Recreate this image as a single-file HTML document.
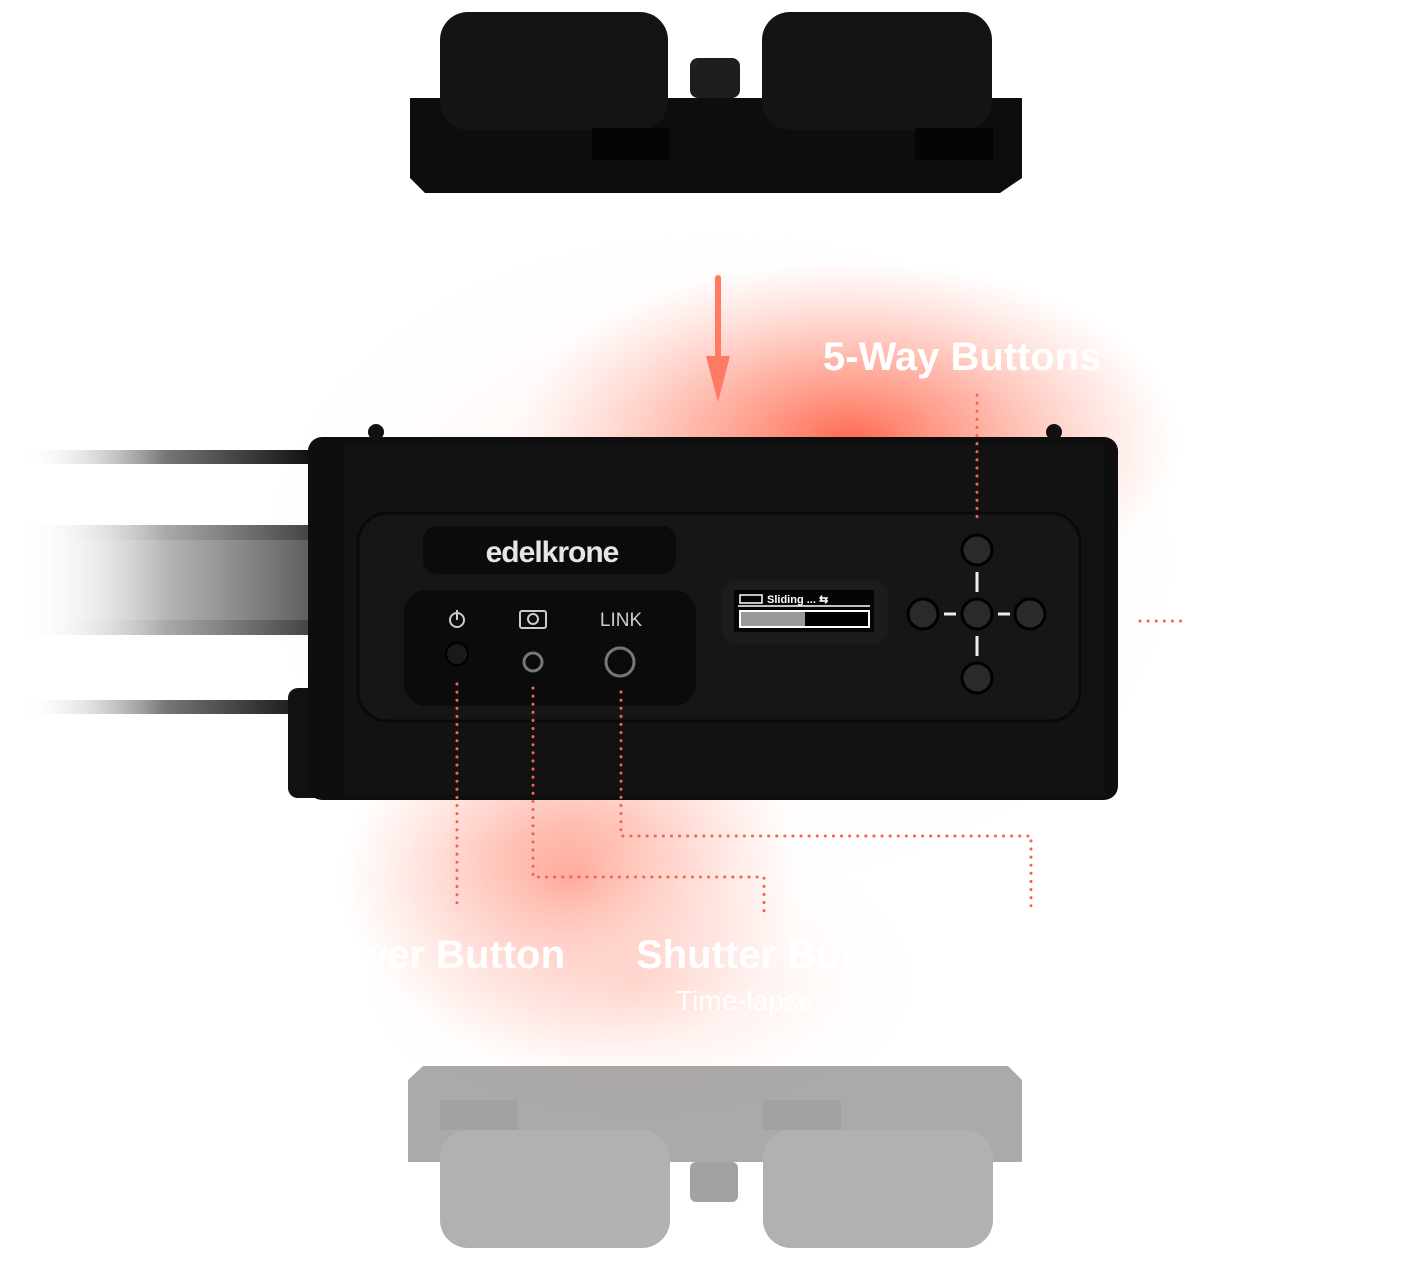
<!DOCTYPE html>
<html><head><meta charset="utf-8"><style>
html,body{margin:0;padding:0;background:#fff;width:1416px;height:1261px;overflow:hidden}
svg{display:block}
text{font-family:"Liberation Sans",sans-serif}
</style></head><body>
<svg width="1416" height="1261" viewBox="0 0 1416 1261" xmlns="http://www.w3.org/2000/svg">
<defs>
<radialGradient id="g1" cx="0.5" cy="0.5" r="0.5">
<stop offset="0" stop-color="#ff6a50" stop-opacity="1"/>
<stop offset="0.45" stop-color="#ff8a74" stop-opacity="0.6"/>
<stop offset="1" stop-color="#ffb0a0" stop-opacity="0"/>
</radialGradient>
<radialGradient id="g2" cx="0.5" cy="0.5" r="0.5">
<stop offset="0" stop-color="#ffd0c6" stop-opacity="0.7"/>
<stop offset="1" stop-color="#fff" stop-opacity="0"/>
</radialGradient>
<linearGradient id="rail" x1="0" x2="1" y1="0" y2="0">
<stop offset="0" stop-color="#fff" stop-opacity="0"/>
<stop offset="0.5" stop-color="#aaa"/>
<stop offset="1" stop-color="#444"/>
</linearGradient>
<linearGradient id="belt" x1="0" x2="1">
<stop offset="0" stop-color="#fff" stop-opacity="0"/>
<stop offset="0.5" stop-color="#777"/>
<stop offset="1" stop-color="#111"/>
</linearGradient>
</defs>
<ellipse cx="720" cy="560" rx="500" ry="360" fill="url(#g2)"/>
<ellipse cx="850" cy="440" rx="330" ry="180" fill="url(#g1)"/>
<ellipse cx="570" cy="880" rx="230" ry="180" fill="url(#g1)" opacity="0.7"/>
<ellipse cx="640" cy="980" rx="300" ry="160" fill="url(#g2)"/>

<text x="730" y="240" font-size="32" fill="#fff" text-anchor="middle">Every bracket mounts on top and bottom</text>

<!-- top bracket -->
<path d="M410 98 L1022 98 L1022 178 L1000 193 L425 193 L410 178 Z" fill="#0d0d0d"/>
<rect x="440" y="12" width="228" height="118" rx="28" fill="#141414"/>
<rect x="762" y="12" width="230" height="118" rx="28" fill="#141414"/>
<rect x="690" y="58" width="50" height="40" rx="8" fill="#1e1e1e"/>
<rect x="592" y="128" width="78" height="32" fill="#050505"/>
<rect x="915" y="128" width="78" height="32" fill="#050505"/>

<!-- arrow -->
<line x1="718" y1="278" x2="718" y2="360" stroke="#ff7a62" stroke-width="6" stroke-linecap="round"/>
<path d="M706 356 L730 356 L718 402 Z" fill="#ff7a62"/>

<text x="823" y="370" font-size="40" font-weight="bold" fill="#fff">5-Way Buttons</text>

<!-- rails -->
<rect x="20" y="450" width="290" height="14" fill="url(#belt)"/>
<rect x="20" y="525" width="290" height="110" fill="url(#rail)"/>
<rect x="20" y="540" width="290" height="80" fill="#fff" opacity="0.15"/>
<rect x="20" y="700" width="290" height="14" fill="url(#belt)"/>

<!-- body -->
<rect x="288" y="688" width="50" height="110" rx="10" fill="#111"/>
<rect x="308" y="437" width="810" height="363" rx="14" fill="#0e0e0e"/>
<rect x="345" y="445" width="760" height="350" fill="#121212"/>
<rect x="358" y="513" width="722" height="208" rx="30" fill="#161616" stroke="#090909" stroke-width="3"/>
<circle cx="376" cy="432" r="8" fill="#111"/><circle cx="1054" cy="432" r="8" fill="#111"/>
<rect x="423" y="526" width="253" height="48" rx="14" fill="#0b0b0b"/>
<text x="552" y="562" font-size="30" font-weight="bold" fill="#e6e6e6" text-anchor="middle" letter-spacing="-1">edelkrone</text>
<rect x="404" y="590" width="292" height="116" rx="22" fill="#0b0b0b"/>
<circle cx="457" cy="620" r="7" fill="none" stroke="#ccc" stroke-width="2"/>
<line x1="457" y1="610" x2="457" y2="620" stroke="#ccc" stroke-width="2"/>
<rect x="520" y="611" width="26" height="17" rx="2" fill="none" stroke="#ccc" stroke-width="2"/>
<circle cx="533" cy="619" r="5" fill="none" stroke="#ccc" stroke-width="2"/>
<text x="621" y="626" font-size="19" fill="#ccc" text-anchor="middle">LINK</text>
<circle cx="457" cy="654" r="11" fill="#1a1a1a" stroke="#000" stroke-width="2"/>
<circle cx="533" cy="662" r="9" fill="#0b0b0b" stroke="#777" stroke-width="3"/>
<circle cx="620" cy="662" r="14" fill="#0b0b0b" stroke="#777" stroke-width="3"/>

<!-- screen -->
<rect x="722" y="580" width="166" height="64" rx="16" fill="#1c1c1c"/>
<rect x="734" y="590" width="140" height="42" fill="#050505"/>
<rect x="740" y="595" width="22" height="8" fill="none" stroke="#fff" stroke-width="1.5"/>
<text x="767" y="603" font-size="11" font-weight="bold" fill="#fff" font-family="Liberation Mono">Sliding ...  ⇆</text>
<line x1="738" y1="606" x2="870" y2="606" stroke="#fff" stroke-width="1.5"/>
<rect x="740" y="611" width="129" height="16" fill="#000" stroke="#fff" stroke-width="2"/>
<rect x="741" y="612" width="64" height="14" fill="#999"/>

<!-- 5 way -->
<g fill="#2a2a2a" stroke="#000" stroke-width="3">
<circle cx="977" cy="550" r="15"/><circle cx="977" cy="614" r="15"/><circle cx="977" cy="678" r="15"/>
<circle cx="923" cy="614" r="15"/><circle cx="1030" cy="614" r="15"/>
</g>
<g stroke="#eee" stroke-width="3">
<line x1="977" y1="572" x2="977" y2="592"/><line x1="977" y1="636" x2="977" y2="656"/>
<line x1="944" y1="614" x2="956" y2="614"/><line x1="998" y1="614" x2="1010" y2="614"/>
</g>

<!-- dotted connectors -->
<g fill="none" stroke="#f26552" stroke-width="3" stroke-dasharray="0.1 8" stroke-linecap="round">
<path d="M977 395 L977 518"/>
<path d="M1140 621 L1182 621"/>
<path d="M457 684 L457 910"/>
<path d="M533 688 L533 877 L764 877 L764 915"/>
<path d="M621 692 L621 836 L1031 836 L1031 912"/>
</g>

<text x="565" y="968" font-size="40" font-weight="bold" fill="#fff" text-anchor="end">Power Button</text>
<text x="636" y="968" font-size="40" font-weight="bold" fill="#fff">Shutter Button</text>
<text x="676" y="1010" font-size="28" fill="#fff">Time-lapse</text>

<!-- bottom bracket -->
<g opacity="0.45">
<path d="M408 1080 L423 1066 L1008 1066 L1022 1080 L1022 1162 L408 1162 Z" fill="#444"/>
<rect x="440" y="1130" width="230" height="118" rx="28" fill="#555"/>
<rect x="763" y="1130" width="230" height="118" rx="28" fill="#555"/>
<rect x="690" y="1162" width="48" height="40" rx="6" fill="#333"/>
<rect x="440" y="1100" width="78" height="30" fill="#333"/>
<rect x="763" y="1100" width="78" height="30" fill="#333"/>
</g>
</svg>
</body></html>
